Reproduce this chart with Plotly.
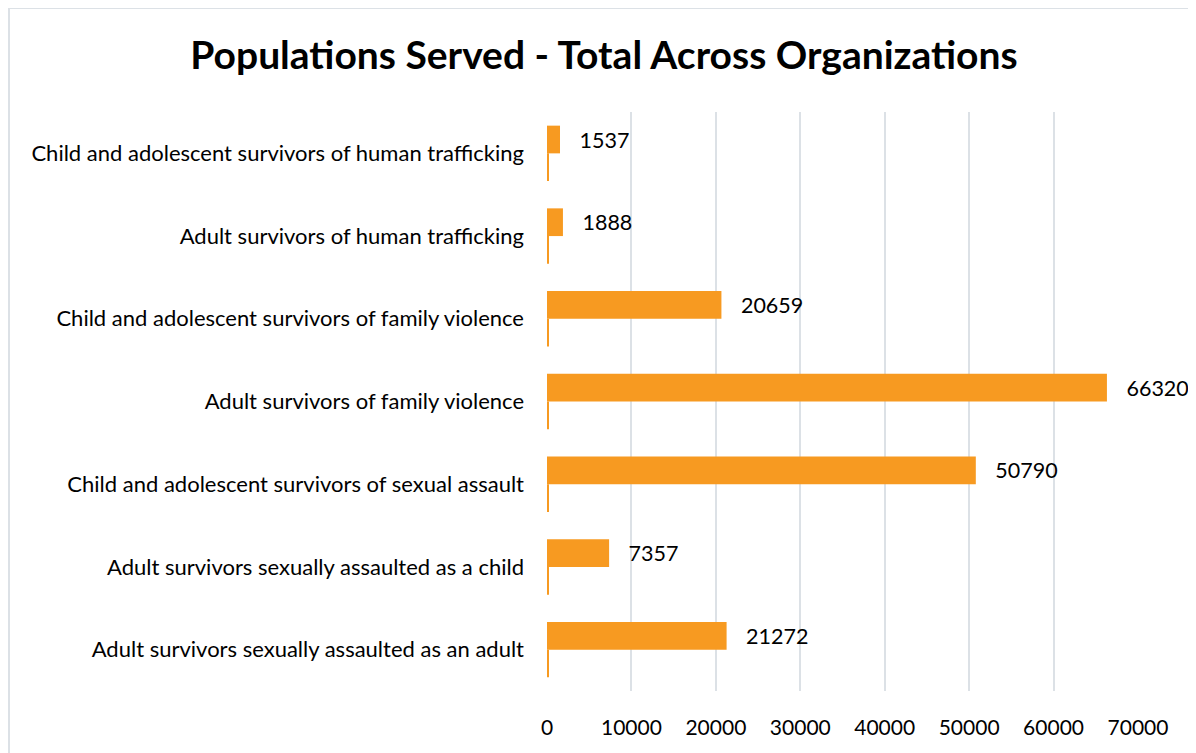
import plotly.graph_objects as go

categories = [
    "Adult survivors sexually assaulted as an adult",
    "Adult survivors sexually assaulted as a child",
    "Child and adolescent survivors of sexual assault",
    "Adult survivors of family violence",
    "Child and adolescent survivors of family violence",
    "Adult survivors of human trafficking",
    "Child and adolescent survivors of human trafficking",
]
totals = [21272, 7357, 50790, 66320, 20659, 1888, 1537]
secondary = [120, 120, 120, 120, 120, 120, 120]
x_ticks = [0, 10000, 20000, 30000, 40000, 50000, 60000, 70000]

ORANGE = "#F79A21"
FONT = "Lato"

fig = go.Figure()
fig.add_trace(go.Bar(
    y=categories, x=secondary, orientation="h",
    marker=dict(color=ORANGE, line=dict(width=0)),
    hoverinfo="skip", showlegend=False,
))
fig.add_trace(go.Bar(
    y=categories, x=totals, orientation="h",
    marker=dict(color=ORANGE, line=dict(width=0)),
    text=["   " + str(v) for v in totals], textposition="outside",
    textfont=dict(family=FONT, size=21.5, color="#000000"),
    cliponaxis=False, showlegend=False,
))

OFF = 8  # page body margin offset
W, H = 1196 - OFF, 753 - OFF
L, R, T, B = 547 - OFF, 58, 112 - OFF, 62
pw, ph = W - L - R, H - T - B

def px_x(p):
    return (p - OFF - L) / pw

def px_y(p):
    return (H - B - (p - OFF)) / ph

fig.update_layout(
    width=W, height=H,
    margin=dict(l=L, r=R, t=T, b=B),
    paper_bgcolor="white", plot_bgcolor="white",
    barmode="group", bargap=0.33, bargroupgap=0,
    title=dict(
        text="<b>Populations Served - Total Across Organizations</b>",
        x=(604 - OFF) / W, xanchor="center", y=1 - (55 - OFF) / H, yanchor="middle",
        font=dict(family=FONT, size=39, color="#000000"),
    ),
    xaxis=dict(
        range=[0, 70000], tickvals=x_ticks,
        ticktext=[str(v) for v in x_ticks],
        showgrid=True, gridcolor="#DCE1E6", gridwidth=2,
        zeroline=False, showline=False, ticks="",
        ticklabelstandoff=22,
        tickfont=dict(family=FONT, size=21, color="#000000"),
    ),
    yaxis=dict(
        categoryorder="array", categoryarray=categories,
        showgrid=False, zeroline=False, showline=False, ticks="",
        ticklabelstandoff=22,
        tickfont=dict(family=FONT, size=22, color="#000000"),
    ),
    shapes=[
        dict(type="line", xref="paper", yref="paper",
             x0=px_x(9), x1=px_x(9), y0=px_y(8), y1=px_y(760),
             line=dict(color="#DCE1E6", width=2)),
        dict(type="line", xref="paper", yref="paper",
             x0=px_x(9), x1=px_x(1200), y0=px_y(8), y1=px_y(8),
             line=dict(color="#DCE1E6", width=2)),
    ],
)

fig.write_html("out.html")
